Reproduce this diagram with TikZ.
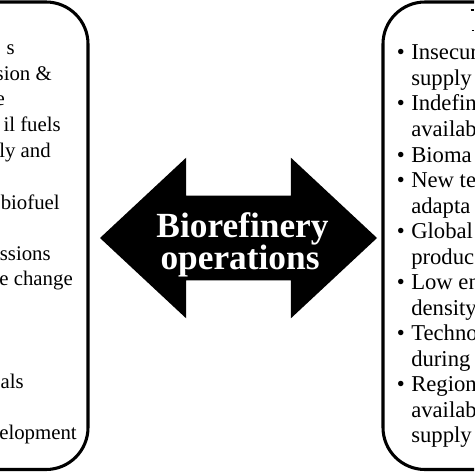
\documentclass[tikz,border=0pt]{standalone}
\usepackage{fontspec}
\setmainfont{Liberation Serif}
\usetikzlibrary{shapes.arrows}

\newcommand{\pxl}{0.75pt}
\tikzset{
	panel/.style={line width=2.3pt, rounded corners=31.5pt},
	leftline/.style={anchor=base east, inner sep=0pt, font=\fontsize{15.6}{18}\selectfont},
	rightline/.style={anchor=base west, inner sep=0pt, font=\fontsize{17}{20}\selectfont},
	bigword/.style={anchor=base, inner sep=0pt, text=white, font=\fontsize{26.5}{30}\selectfont\bfseries}
}

\begin{document}
\begin{tikzpicture}[x=0.75pt, y=-0.75pt]

	\useasboundingbox (0,0) rectangle (474,474);
	\clip (0,0) rectangle (474,474);

	\draw[panel] (-40,2) -- (88,2) -- (88,469.5) -- (-40,469.5);
	\draw[panel] (514,2) -- (383,2) -- (383,469.5) -- (514,469.5);

	\foreach \x/\y/\t [count=\i] in {15/55/s, 52/81/sion \&, 5/106/e, 61/132/il fuels, 51/157/ly and,
		60/209/biofuel, 51/260/ssions, 73/285/e change, 24/388/als, 77/439/elopment}{
		\node[leftline] (l\i) at (\x,\y) {\t};
	}

	\foreach \t [count=\i] in {Insecur, supply, Indefin, availab, Bioma, New te, adapta, Global,
		produc, Low en, density, Techno, during, Region, availab, supply}{
		\node[rightline] (r\i) at (411,{60+25.5*(\i-1)}) {\t};
	}
	\foreach \i in {1,3,5,6,8,10,12,14}{
		\node[anchor=base east, inner sep=0pt, font=\fontsize{17}{20}\selectfont] (b\i) at (405,{60+25.5*(\i-1)}) {•};
	}

	\draw[line width=1pt] (470.5,10) -- (474,10);
	\draw[line width=1pt] (471.5,30.5) -- (474,30.5);

	\node[draw=none, fill=black, double arrow, minimum height=277*\pxl, minimum width=160*\pxl,
		inner xsep=0pt, inner ysep=42*\pxl, double arrow head extend=38*\pxl,
		double arrow tip angle=86] (ops) at (238.5,238) {};
	\node[bigword] (bio) at (242.5,237) {Biorefinery};
	\node[bigword] (opr) at (240,269.5) {operations};

\end{tikzpicture}
\end{document}
